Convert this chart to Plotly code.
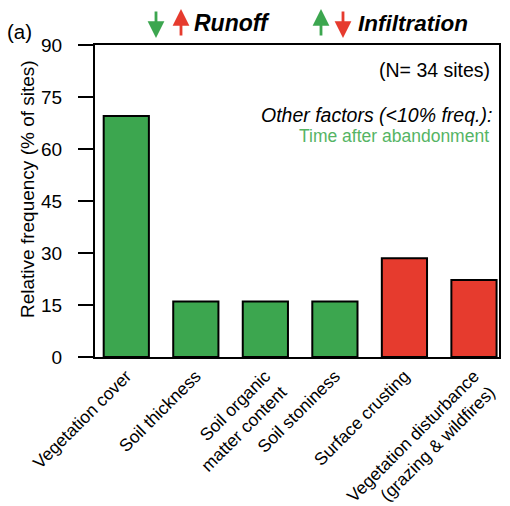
import plotly.graph_objects as go

# Factors reported as controlling runoff / infiltration
categories = [
    "Vegetation cover",
    "Soil thickness",
    "Soil organic<br>matter content",
    "Soil stoniness",
    "Surface crusting",
    "Vegetation disturbance<br>(grazing & wildfires)",
]
frequency = [69.5, 16.0, 16.0, 16.0, 28.5, 22.2]  # % of sites
effect = ["decrease", "decrease", "decrease", "decrease", "increase", "increase"]
y_ticks = [0, 15, 30, 45, 60, 75, 90]

GREEN = "#3ca64f"
RED = "#e63b2e"
LIGHT_GREEN = "#55b464"
FONT = "Liberation Sans, Arial, sans-serif"

bar_colors = [GREEN if e == "decrease" else RED for e in effect]

fig = go.Figure(
    go.Bar(
        x=list(range(len(categories))),
        y=frequency,
        width=0.65,
        marker=dict(color=bar_colors, line=dict(color="black", width=2)),
        hoverinfo="skip",
    )
)

fig.update_layout(
    width=510,
    height=506,
    margin=dict(l=95, r=11, t=45, b=149),
    paper_bgcolor="white",
    plot_bgcolor="white",
    showlegend=False,
    font=dict(family=FONT, color="black"),
)

fig.update_xaxes(
    range=[-0.45, 5.36],
    tickmode="array",
    tickvals=list(range(len(categories))),
    ticktext=categories,
    tickangle=-45,
    tickfont=dict(size=17.5, color="black"),
    ticks="",
    showline=True,
    linecolor="black",
    linewidth=2,
    mirror=True,
    showgrid=False,
    zeroline=False,
    automargin=False,
)

fig.update_yaxes(
    range=[0, 90],
    tickmode="array",
    tickvals=y_ticks,
    ticktext=[str(v) for v in y_ticks],
    ticks="outside",
    ticklen=15,
    tickwidth=2,
    tickcolor="black",
    tickfont=dict(size=19, color="black"),
    ticklabelstandoff=12,
    showline=True,
    linecolor="black",
    linewidth=2,
    mirror=True,
    showgrid=False,
    zeroline=False,
    automargin=False,
)

# Plot-area geometry helpers (pixel -> paper)
PL, PR, PT, PB = 95, 499, 45, 357


def px(x):
    return (x - PL) / (PR - PL)


def py(y):
    return (PB - y) / (PB - PT)


ann = []

# Y-axis title
ann.append(dict(x=px(27), y=py(189), xref="paper", yref="paper",
                text="Relative frequency (% of sites)", textangle=-90,
                showarrow=False, xanchor="center", yanchor="middle",
                font=dict(size=19, color="black")))

# Panel label
ann.append(dict(x=px(5), y=py(32), xref="paper", yref="paper", text="(a)",
                showarrow=False, xanchor="left", yanchor="middle",
                font=dict(size=20.5, color="black")))

# Header: arrows and effect labels
arrow_defs = [
    (156, "down", GREEN),
    (181, "up", RED),
    (321, "up", GREEN),
    (343, "down", RED),
]
for x, direction, color in arrow_defs:
    if direction == "down":
        head_y, tail_off = 38, -28
    else:
        head_y, tail_off = 9, 28
    ann.append(dict(x=px(x), y=py(head_y), xref="paper", yref="paper",
                    ax=0, ay=tail_off, axref="pixel", ayref="pixel",
                    text="", showarrow=True, arrowhead=2, arrowsize=1.2,
                    arrowwidth=2.8, arrowcolor=color))

ann.append(dict(x=px(192), y=py(23), xref="paper", yref="paper",
                text="<b><i>Runoff</i></b>", showarrow=False,
                xanchor="left", yanchor="middle",
                font=dict(size=23, color="black")))
ann.append(dict(x=px(356), y=py(23), xref="paper", yref="paper",
                text="<b><i>Infiltration</i></b>", showarrow=False,
                xanchor="left", yanchor="middle",
                font=dict(size=22.5, color="black")))

# In-plot notes
ann.append(dict(x=px(492), y=py(70), xref="paper", yref="paper",
                text="(N= 34 sites)", showarrow=False,
                xanchor="right", yanchor="middle",
                font=dict(size=19.5, color="black")))
ann.append(dict(x=px(494), y=py(115), xref="paper", yref="paper",
                text="<i>Other factors (<10% freq.):</i>", showarrow=False,
                xanchor="right", yanchor="middle",
                font=dict(size=19.5, color="black")))
ann.append(dict(x=px(491), y=py(136), xref="paper", yref="paper",
                text="Time after abandonment", showarrow=False,
                xanchor="right", yanchor="middle",
                font=dict(size=17.5, color=LIGHT_GREEN)))

fig.update_layout(annotations=ann)

fig.write_html("out.html")
